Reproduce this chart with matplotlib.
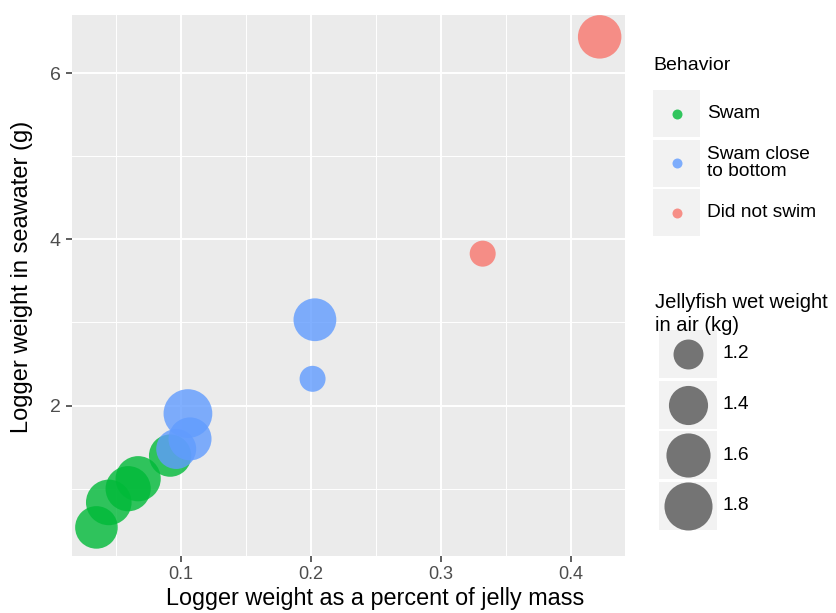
import numpy as np
import matplotlib
matplotlib.use("Agg")
import matplotlib.pyplot as plt
from matplotlib.patches import Rectangle

plt.rcParams['font.family'] = ['Liberation Sans', 'DejaVu Sans']

# data
behavior = ["Swam", "Swam", "Swam", "Swam", "Swam",
            "Swam close\nto bottom", "Swam close\nto bottom", "Swam close\nto bottom",
            "Swam close\nto bottom", "Swam close\nto bottom",
            "Did not swim", "Did not swim"]
pct_mass = [0.0348, 0.0443, 0.0592, 0.0669, 0.0915,
            0.0962, 0.1068, 0.1052, 0.2011, 0.2029,
            0.332, 0.422]
seawater_g = [0.534, 0.835, 1.00, 1.12, 1.398,
              1.478, 1.599, 1.904, 2.322, 3.033,
              3.828, 6.437]
jelly_kg = [1.53, 1.67, 1.65, 1.65, 1.52,
            1.43, 1.55, 1.84, 1.18, 1.54,
            1.18, 1.57]

groups = ["Swam", "Swam close\nto bottom", "Did not swim"]
group_colors = ["#00BA38", "#619CFF", "#F8766D"]
size_breaks = [1.2, 1.4, 1.6, 1.8]

xticks = [0.1, 0.2, 0.3, 0.4]
yticks = [2, 4, 6]


def diam_px(v):
    v = np.asarray(v, dtype=float)
    return 26 + 28 * np.sqrt(np.clip(v - 1.18, 0, None))


def area_pt(v):
    return (diam_px(v) * 0.72) ** 2


W, H = 836, 613
fig = plt.figure(figsize=(W / 100, H / 100), dpi=100)
ax = fig.add_axes([72 / W, 1 - 556 / H, (625 - 72) / W, (556 - 15) / H])
ax.set_facecolor("#EBEBEB")
for s in ax.spines.values():
    s.set_visible(False)

cmap = dict(zip(groups, group_colors))
cols = [cmap[b] for b in behavior]
ax.scatter(pct_mass, seawater_g, s=area_pt(jelly_kg), c=cols, alpha=0.8,
           linewidths=0, zorder=3)

ax.set_xlim(0.016, 0.4415)
ax.set_ylim(0.19, 6.70)
ax.set_xticks(xticks)
ax.set_yticks(yticks)
ax.set_xticks([0.05, 0.15, 0.25, 0.35], minor=True)
ax.set_yticks([1, 3, 5], minor=True)
ax.set_xticklabels([str(t) for t in xticks])
ax.grid(which="major", color="white", linewidth=1.4, zorder=0)
ax.grid(which="minor", color="white", linewidth=0.7, zorder=0)
ax.set_axisbelow(True)
ax.tick_params(which="major", length=4, width=1.1, color="#333333",
               labelcolor="#4D4D4D")
ax.tick_params(axis="x", which="major", labelsize=13, pad=3)
ax.tick_params(axis="y", which="major", labelsize=14, pad=4)
ax.tick_params(which="minor", length=0)
ax.set_xlabel("Logger weight as a percent of jelly mass", fontsize=16.8, va="top")
ax.set_ylabel("Logger weight in seawater (g)", fontsize=17)
ax.xaxis.set_label_coords(0.548, -0.057)
ax.yaxis.set_label_coords(-0.070, 0.516)

# legends drawn in a pixel-coordinate overlay
lg = fig.add_axes([0, 0, 1, 1])
lg.set_xlim(0, W)
lg.set_ylim(H, 0)
lg.axis("off")

lg.text(653, 66, "Behavior", fontsize=14, va="center", ha="left")
for i, (g, c) in enumerate(zip(groups, group_colors)):
    y0 = 90 + i * 49.5
    lg.add_patch(Rectangle((653, y0), 47, 47, facecolor="#F2F2F2", edgecolor="none"))
    lg.scatter([676.5], [y0 + 23.5], s=(10 * 0.72) ** 2, color=c, alpha=0.8, linewidths=0)
    lg.text(707, y0 + 23.5, g, fontsize=13.8, va="center", ha="left", linespacing=1.0)

lg.text(655, 314, "Jellyfish wet weight\nin air (kg)", fontsize=14.5, va="center",
        ha="left", linespacing=1.25)
for i, v in enumerate(size_breaks):
    y0 = 330 + i * 50.5
    lg.add_patch(Rectangle((659, y0), 58, 48, facecolor="#F2F2F2", edgecolor="none"))
    lg.scatter([688], [y0 + 24], s=area_pt([v]), color="#555555", alpha=0.8, linewidths=0)
    lg.text(723, y0 + 24, str(v), fontsize=13.8, va="center", ha="left")

fig.savefig("out.png", dpi=100)
